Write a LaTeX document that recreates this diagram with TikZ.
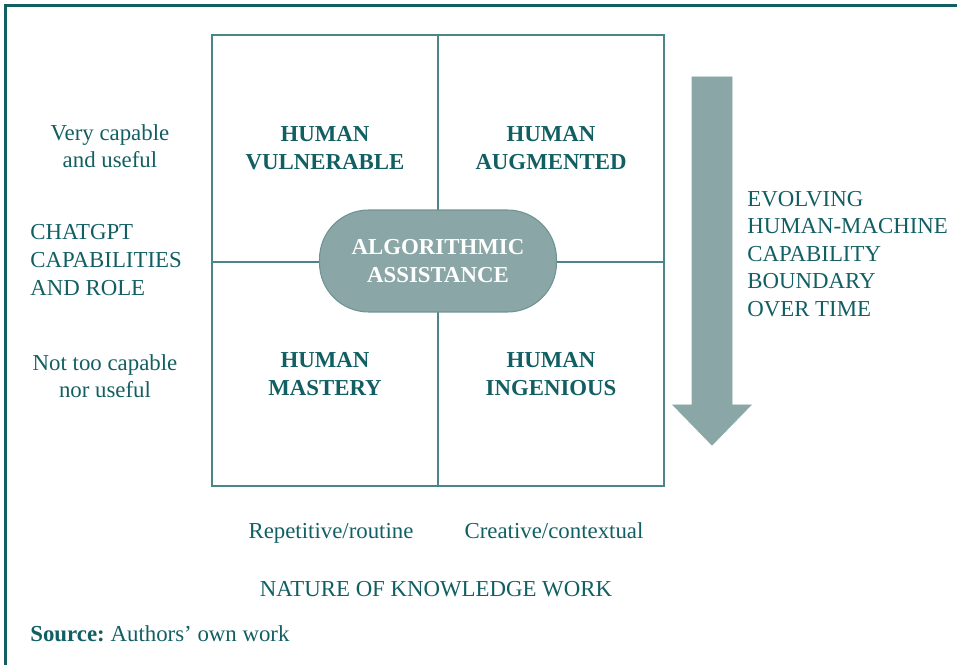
\documentclass[tikz,border=0pt]{standalone}
\usepackage{fontspec}
\setmainfont{Liberation Serif}
\definecolor{tealtext}{HTML}{125F63}
\definecolor{gridline}{HTML}{4A8587}
\definecolor{pillfill}{HTML}{8AA6A6}
\definecolor{pilledge}{HTML}{6E9394}
\tikzset{
  lbl/.style={text=tealtext, font=\fontsize{13}{15.7}\selectfont, align=center, inner sep=0pt},
  quad/.style={lbl, font=\fontsize{13}{15.7}\selectfont\bfseries},
  pill/.style={rectangle, rounded corners=0.98cm, fill=pillfill, draw=pilledge, line width=0.6pt,
    minimum width=4.74cm, minimum height=2.04cm, text=white,
    font=\fontsize{13}{15.7}\selectfont\bfseries, align=center}
}
\begin{document}
\begin{tikzpicture}[x=0.02cm, y=-0.02cm]
  \useasboundingbox (0,0) rectangle (957,665);
  % frame
  \draw [tealtext, line width=1.7pt] (5.5,665) -- (5.5,5.5) -- (957,5.5);
  % grid
  \draw [gridline, line width=0.9pt] (212,35) rectangle (664,486);
  \draw [gridline, line width=0.9pt] (438,35) -- (438,486);
  \draw [gridline, line width=0.9pt] (212,262) -- (664,262);
  \node [pill] (algo) at (438,261) {ALGORITHMIC\\ASSISTANCE};
  % quadrants
  \node [quad] (vuln) at (325,148) {HUMAN\\VULNERABLE};
  \node [quad] (augm) at (551,148) {HUMAN\\AUGMENTED};
  \node [quad] (mast) at (325,374) {HUMAN\\MASTERY};
  \node [quad] (inge) at (551,374) {HUMAN\\INGENIOUS};
  % left axis
  \node [lbl] (high) at (110,146) {Very capable\\and useful};
  \node [lbl, align=left, anchor=west] (role) at (30,260) {CHATGPT\\CAPABILITIES\\AND ROLE};
  \node [lbl] (low) at (105,376) {Not too capable\\nor useful};
  % bottom axis
  \node [lbl, anchor=base] (rout) at (331,539) {Repetitive/routine};
  \node [lbl, anchor=base] (crea) at (554,539) {Creative/contextual};
  \node [lbl] (natu) at (436,589) {NATURE OF KNOWLEDGE WORK};
  \node [lbl, anchor=west] (src) at (30,634) {\textbf{Source:}\hspace{-1pt} Authors’ own work};
  % time arrow
  \fill [pillfill, draw=pilledge!80, line width=0.5pt]
    (692,77) -- (732,77) -- (732,405) -- (751,405) -- (712,445)
    -- (673,405) -- (692,405) -- cycle;
  \node [lbl, align=left, anchor=west] (evol) at (747,254)
    {EVOLVING\\HUMAN-MACHINE\\CAPABILITY\\BOUNDARY\\OVER TIME};
\end{tikzpicture}
\end{document}
